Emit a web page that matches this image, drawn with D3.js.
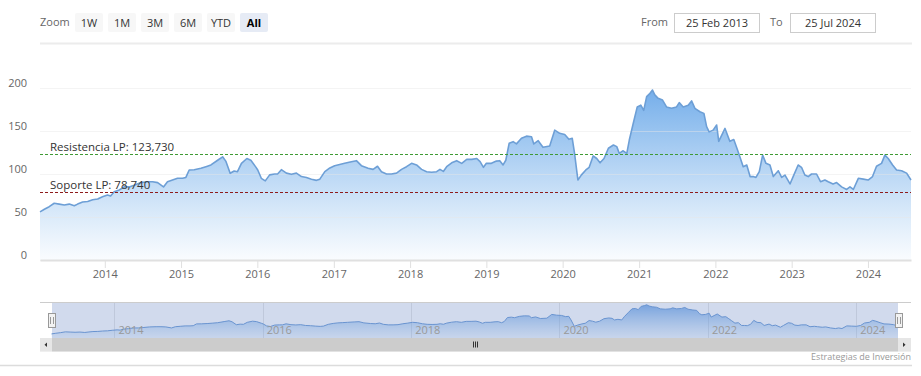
<!DOCTYPE html>
<html><head><meta charset="utf-8">
<script src="https://cdn.jsdelivr.net/npm/d3@7"></script>
<style>
html,body{margin:0;padding:0;background:#fff;}
svg{display:block;font-family:"Open Sans",sans-serif;}
</style>
</head><body>
<svg id="c" width="921" height="376"></svg>
<script>
// ---------------- DATA ----------------
const dates = [
"2013-02-25","2013-03-18","2013-04-10","2013-05-04","2013-05-28","2013-06-21","2013-07-15","2013-08-08","2013-08-24","2013-09-17","2013-10-11","2013-11-04","2013-11-28","2013-12-21",
"2014-01-14","2014-01-29","2014-02-15","2014-03-11","2014-04-04","2014-04-28","2014-05-22","2014-06-23","2014-07-25","2014-08-18","2014-09-11","2014-10-09","2014-10-28","2014-11-21","2014-12-15",
"2015-01-08","2015-01-24","2015-02-09","2015-03-05","2015-04-06","2015-04-30","2015-05-24","2015-06-25","2015-07-19","2015-08-03","2015-08-24","2015-09-12","2015-09-28","2015-10-17","2015-11-12","2015-12-01","2015-12-25",
"2016-01-03","2016-01-20","2016-02-08","2016-02-29","2016-03-24","2016-04-07","2016-04-25","2016-05-19","2016-06-12","2016-07-06","2016-07-30","2016-08-23","2016-09-16","2016-10-10","2016-10-26","2016-11-19","2016-12-13",
"2017-01-05","2017-01-29","2017-02-22","2017-03-26","2017-04-19","2017-05-13","2017-06-14","2017-07-08","2017-07-29","2017-08-17","2017-09-10","2017-10-04","2017-10-28","2017-11-21","2017-12-15",
"2018-01-08","2018-02-01","2018-02-25","2018-03-21","2018-04-14","2018-05-08","2018-05-24","2018-06-09","2018-06-25","2018-07-19","2018-08-12","2018-09-05","2018-09-29","2018-10-23","2018-11-16","2018-12-02","2018-12-18",
"2019-01-01","2019-01-25","2019-02-18","2019-03-06","2019-03-22","2019-04-04","2019-04-20","2019-05-09","2019-05-25","2019-06-18","2019-07-12","2019-08-05","2019-08-16","2019-09-06","2019-09-29","2019-10-31","2019-11-24","2019-12-18",
"2020-01-11","2020-01-31","2020-02-16","2020-02-27","2020-03-14","2020-03-31","2020-04-21","2020-05-07","2020-05-26","2020-06-12","2020-06-28","2020-07-17","2020-08-07","2020-08-31","2020-09-16","2020-09-28","2020-10-15","2020-11-03","2020-11-15","2020-12-04","2020-12-23",
"2021-01-09","2021-01-23","2021-02-06","2021-02-22","2021-03-06","2021-03-17","2021-04-02","2021-04-23","2021-05-12","2021-06-05","2021-06-29","2021-07-12","2021-07-31","2021-08-24","2021-09-09","2021-09-25","2021-10-19","2021-11-07","2021-11-20","2021-12-02","2021-12-21",
"2022-01-07","2022-01-17","2022-02-16","2022-03-11","2022-03-30","2022-04-14","2022-04-28","2022-05-14","2022-05-31","2022-06-16","2022-07-01","2022-07-14","2022-07-30","2022-08-15","2022-08-31","2022-09-19","2022-10-05","2022-10-29","2022-11-14","2022-11-30","2022-12-24",
"2023-01-08","2023-02-01","2023-02-17","2023-03-05","2023-03-21","2023-04-06","2023-04-30","2023-05-19","2023-06-09","2023-06-25","2023-07-18","2023-08-04","2023-08-28","2023-09-21","2023-10-07","2023-10-23","2023-11-16","2023-12-10",
"2024-01-02","2024-01-23","2024-02-11","2024-03-06","2024-03-22","2024-04-07","2024-04-28","2024-05-17","2024-06-10","2024-07-04","2024-07-25"
];
const values = [
56,59,62,66,65,64,65,63,65,67.4,68,70,71,73.6,
75.6,74.4,79.4,81.4,85,85,87,90,91,91,90,85,91,93,95,
95,96,104.7,105,106.6,108.5,110.5,116,120,115,100.8,103.5,102.7,112.4,118,116,108,
104.7,95,92,99,100,100,105,101,99.6,101,97,96,94,92.6,94,102.7,107,
109.7,111,112.4,114.3,115.5,109.7,106.6,105.4,109,102.7,100,100,101,105.4,108.5,
112.4,110.5,105.4,102.7,102,102.7,105.4,103,108.5,113,115.5,112.4,117,117,118,114.3,107.8,
112.4,112.4,115,115.5,110.5,116,135.7,137.6,135,141.5,144,143.4,135,138.7,131,132.6,151,147.3,
146,140.3,141.5,124,93,99,104.7,107.8,121,118,113,118,130,133.7,131.8,124,127,124,139.5,159,178,
180,174,190,193.8,197.7,192,188,186,178,176.4,178,183,178,180,185,176.4,172.4,170.5,155,149,151,
157,138,153,138,140,130,120,108.5,110.5,97,97,96,102.7,122,112.4,110.5,97,103.8,96,98.8,88.4,
97,110.5,107.8,98.8,97,100,100,91,93,91,88.4,90,85,82,85,82,95,94,
93,97,109,112.4,122,118,110.5,104.7,103.8,101,93
];
const yTicks = [0, 50, 100, 150, 200];
const xTickYears = [2014,2015,2016,2017,2018,2019,2020,2021,2022,2023,2024];
const navTickYears = [2014,2016,2018,2020,2022,2024];
const zoomButtons = ["1W","1M","3M","6M","YTD","All"];
const selectedButton = "All";
const zoomLabel = "Zoom";
const fromLabel = "From", toLabel = "To";
const fromText = "25 Feb 2013", toText = "25 Jul 2024";
const rangeStart = "2013-02-25", rangeEnd = "2024-07-25";
const plotLinesData = [
  {label: "Resistencia LP: 123,730", value: 123.73, color: "#3f9a34"},
  {label: "Soporte LP: 78,740", value: 78.74, color: "#8e1b1b"}
];
const creditText = "Estrategias de Inversión";

// ---------------- CHART ----------------
const parse = d3.timeParse("%Y-%m-%d");
const series = dates.map((d, i) => ({date: parse(d), value: values[i]}));
const svg = d3.select("#c");
const defs = svg.append("defs");

const L = 40, R = 911;
const x = d3.scaleTime().domain([parse(rangeStart), parse(rangeEnd)]).range([L, R]);
const y = d3.scaleLinear().domain([0, 200]).range([260, 88]);

const g1 = defs.append("linearGradient").attr("id","gMain")
  .attr("gradientUnits","userSpaceOnUse").attr("x1",0).attr("x2",0).attr("y1",y(200)).attr("y2",y(0));
g1.append("stop").attr("offset",0).attr("stop-color","#67a6e8").attr("stop-opacity",0.92);
g1.append("stop").attr("offset",1).attr("stop-color","#7cb5ec").attr("stop-opacity",0.04);

svg.append("line").attr("x1",L).attr("x2",R+1).attr("y1",43.5).attr("y2",43.5)
  .attr("stroke","#ececec").attr("stroke-width",2);

// range selector
const topG = svg.append("g").attr("font-size","11px");
topG.append("text").attr("x",L).attr("y",26).attr("fill","#666").text(zoomLabel);
const btn = topG.selectAll("g.btn").data(zoomButtons).join("g").attr("class","btn")
  .attr("transform",(d,i)=>`translate(${75 + i*33},13)`);
btn.append("rect").attr("width",28).attr("height",19).attr("rx",2)
  .attr("fill", d => d === selectedButton ? "#e6ebf5" : "#f7f7f7");
btn.append("text").attr("x",14).attr("y",13.5).attr("text-anchor","middle")
  .attr("fill", d => d === selectedButton ? "#000" : "#333")
  .attr("font-weight", d => d === selectedButton ? "bold" : "normal").text(d => d);

const inputs = [{label: fromLabel, lx: 641, bx: 674.5, text: fromText},
                {label: toLabel, lx: 770, bx: 790.5, text: toText}];
const ig = topG.selectAll("g.inp").data(inputs).join("g").attr("class","inp");
ig.append("text").attr("x",d=>d.lx).attr("y",26).attr("fill","#666").text(d=>d.label);
ig.append("rect").attr("x",d=>d.bx).attr("y",13.5).attr("width",85).attr("height",19)
  .attr("fill","#fff").attr("stroke","#ccc");
ig.append("text").attr("x",d=>d.bx+42.5).attr("y",27).attr("text-anchor","middle")
  .attr("fill","#333").text(d=>d.text);

// main area + line
const area = d3.area().x(d=>x(d.date)).y0(y(0)).y1(d=>y(d.value));
const line = d3.line().x(d=>x(d.date)).y(d=>y(d.value));
svg.append("path").datum(series).attr("d",area).attr("fill","url(#gMain)");

const yAxis = svg.append("g").attr("transform",`translate(${L},0)`)
  .call(d3.axisLeft(y).tickValues(yTicks).tickSize(-(R-L)).tickPadding(13));
yAxis.select(".domain").remove();
yAxis.selectAll(".tick line").attr("stroke","#e6e6e6").attr("stroke-opacity",0.45);
yAxis.selectAll(".tick text").attr("fill","#666").attr("font-size","11px")
  .attr("font-family","Open Sans").attr("y",-5);

svg.append("path").datum(series).attr("d",line).attr("fill","none")
  .attr("stroke","#6d9fd6").attr("stroke-width",1.6).attr("stroke-linejoin","round");

const xAxis = svg.append("g").attr("transform",`translate(0,${y(0)})`)
  .call(d3.axisBottom(x).tickValues(xTickYears.map(yr=>new Date(yr,0,1)))
    .tickFormat(d3.timeFormat("%Y")).tickSize(8).tickSizeOuter(0).tickPadding(2));
xAxis.select(".domain").attr("stroke","#e0e0e0").attr("stroke-width",2);
xAxis.selectAll(".tick line").attr("stroke","#e0e0e0");
xAxis.selectAll(".tick text").attr("fill","#666").attr("font-size","11px").attr("font-family","Open Sans");

// plot lines
const pl = svg.selectAll("g.pl").data(plotLinesData).join("g").attr("class","pl");
pl.append("line").attr("x1",L).attr("x2",R).attr("y1",d=>Math.round(y(d.value))+0.5).attr("y2",d=>Math.round(y(d.value))+0.5)
  .attr("stroke",d=>d.color).attr("stroke-width",1).attr("stroke-dasharray","3,2");
pl.append("text").attr("x",50).attr("y",d=>Math.round(y(d.value))-3).attr("fill","#333")
  .attr("font-size","11.5px").text(d=>d.label);

// ---------------- NAVIGATOR ----------------
const NT = 302.5, NB = 338;
const nx = d3.scaleTime().domain(x.domain()).range([51.5, 898]);
const ny = d3.scaleLinear().domain([36, 209]).range([NB, NT]);
const g2 = defs.append("linearGradient").attr("id","gNav")
  .attr("gradientUnits","userSpaceOnUse").attr("x1",0).attr("x2",0).attr("y1",NT).attr("y2",NB);
g2.append("stop").attr("offset",0).attr("stop-color","#4a8ee0").attr("stop-opacity",0.75);
g2.append("stop").attr("offset",1).attr("stop-color","#7cb5ec").attr("stop-opacity",0.1);

const nav = svg.append("g");
nav.selectAll("line.ng").data(navTickYears).join("line").attr("class","ng")
  .attr("x1",d=>Math.round(nx(new Date(d,0,1)))+0.5).attr("x2",d=>Math.round(nx(new Date(d,0,1)))+0.5)
  .attr("y1",NT).attr("y2",NB).attr("stroke","#e6e6e6");
nav.append("path").datum(series)
  .attr("d", d3.area().x(d=>nx(d.date)).y0(NB).y1(d=>ny(d.value)))
  .attr("fill","url(#gNav)");
nav.append("path").datum(series)
  .attr("d", d3.line().x(d=>nx(d.date)).y(d=>ny(d.value)))
  .attr("fill","none").attr("stroke","#6b9bd6").attr("stroke-width",1);
nav.append("rect").attr("x",52).attr("y",NT).attr("width",898-52).attr("height",NB-NT)
  .attr("fill","rgba(102,133,194,0.3)");
nav.selectAll("text.nl").data(navTickYears).join("text").attr("class","nl")
  .attr("x",d=>nx(new Date(d,0,1))+4).attr("y",334).attr("fill","#999").attr("font-size","11px")
  .text(d=>d);
nav.append("line").attr("x1",L).attr("x2",R).attr("y1",NT).attr("y2",NT).attr("stroke","#ccc");

const SY = 338, SH = 13.5;
nav.append("rect").attr("x",L).attr("y",SY).attr("width",R-L).attr("height",SH).attr("fill","#f2f2f2");
nav.append("rect").attr("x",52).attr("y",SY).attr("width",898-52).attr("height",SH).attr("fill","#cccccc");
nav.append("rect").attr("x",L).attr("y",SY).attr("width",12).attr("height",SH).attr("fill","#e6e6e6");
nav.append("rect").attr("x",898).attr("y",SY).attr("width",13).attr("height",SH).attr("fill","#e6e6e6");
nav.append("path").attr("d",`M47,${SY+4.5} L44.5,${SY+6.75} L47,${SY+9} Z`).attr("fill","#333");
nav.append("path").attr("d",`M903,${SY+4.5} L905.5,${SY+6.75} L903,${SY+9} Z`).attr("fill","#333");
[-2,0,2].forEach(o=>nav.append("line").attr("x1",475.5+o).attr("x2",475.5+o)
  .attr("y1",SY+3.5).attr("y2",SY+9.5).attr("stroke","#333"));

[52, 899].forEach(hx=>{
  nav.append("rect").attr("x",hx-3.5).attr("y",313.5).attr("width",7).attr("height",14)
    .attr("fill","#f2f2f2").attr("stroke","#999");
  nav.append("line").attr("x1",hx-1.5).attr("x2",hx-1.5).attr("y1",317).attr("y2",324).attr("stroke","#999");
  nav.append("line").attr("x1",hx+1.5).attr("x2",hx+1.5).attr("y1",317).attr("y2",324).attr("stroke","#999");
});

svg.append("text").attr("x",R).attr("y",360).attr("text-anchor","end")
  .attr("fill","#999").attr("font-size","9px").text(creditText);
svg.append("line").attr("x1",0).attr("x2",R+1).attr("y1",365.5).attr("y2",365.5)
  .attr("stroke","#dcdcdc").attr("stroke-width",1.5);
</script>
</body></html>
